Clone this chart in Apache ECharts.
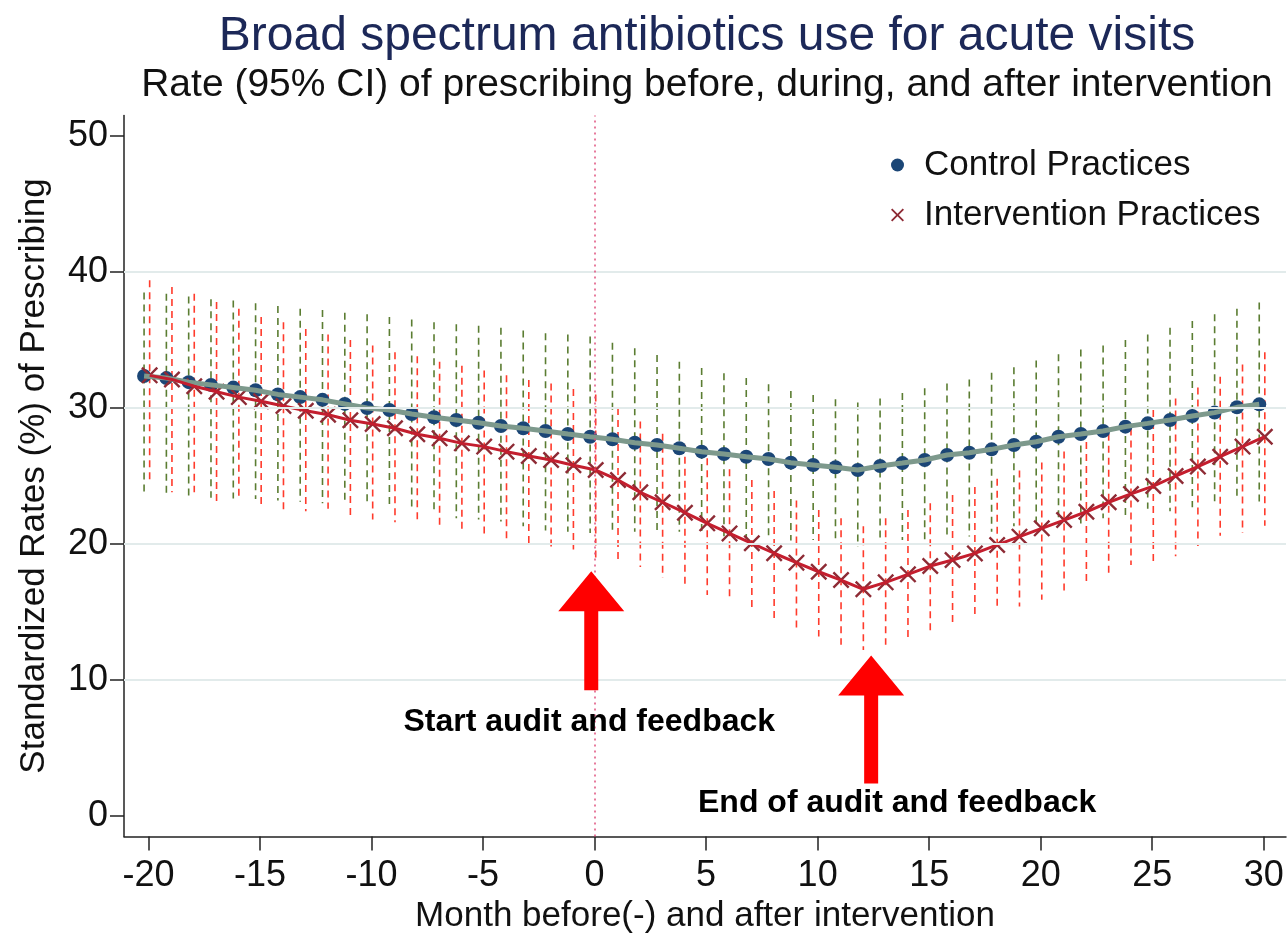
<!DOCTYPE html>
<html>
<head>
<meta charset="utf-8">
<title>Broad spectrum antibiotics use for acute visits</title>
<script src="https://cdn.jsdelivr.net/npm/echarts@6.0.0/dist/echarts.min.js"></script>
<style>
  html, body { margin: 0; padding: 0; background: #fff; }
  #main { width: 1288px; height: 933px; }
</style>
</head>
<body>
<div id="main"></div>
<script>
// months before(-) and after the intervention
const months = [-20, -19, -18, -17, -16, -15, -14, -13, -12, -11, -10, -9, -8, -7, -6, -5, -4, -3, -2, -1,
    0, 1, 2, 3, 4, 5, 6, 7, 8, 9, 10, 11, 12, 13, 14, 15, 16, 17, 18, 19, 20,
    21, 22, 23, 24, 25, 26, 27, 28, 29, 30];

// control practices: rate and 95% CI
const control = [32.35, 32.2, 31.9, 31.7, 31.5, 31.3, 31.0, 30.8, 30.6, 30.3, 30.0, 29.85, 29.56, 29.32, 29.12, 28.92, 28.68, 28.51, 28.31, 28.09,
    27.89, 27.7, 27.45, 27.28, 27.04, 26.79, 26.62, 26.42, 26.25, 25.98, 25.81, 25.64, 25.44, 25.74, 25.95, 26.18, 26.54, 26.71, 26.96, 27.28, 27.52,
    27.89, 28.09, 28.31, 28.63, 28.87, 29.12, 29.41, 29.66, 30.05, 30.27];
const controlLow = [23.8, 23.65, 23.5, 23.4, 23.35, 23.3, 23.2, 23.1, 23.0, 22.95, 22.85, 22.7, 22.6, 22.25, 21.9, 21.8, 21.65, 21.3, 21.0, 20.9,
    20.8, 21.0, 20.9, 21.0, 20.9, 20.8, 20.55, 20.4, 20.3, 20.25, 20.3, 20.05, 19.8, 20.15, 20.3, 20.3, 20.4, 20.55, 20.9, 21.3, 21.4,
    21.4, 21.5, 21.9, 22.1, 22.6, 22.4, 22.7, 23.0, 23.5, 23.1];
const controlHigh = [38.5, 38.4, 38.2, 38.0, 37.9, 37.7, 37.5, 37.3, 37.2, 37.0, 36.9, 36.7, 36.5, 36.3, 36.15, 36.05, 35.9, 35.7, 35.5, 35.4,
    35.25, 34.8, 34.4, 33.9, 33.4, 32.95, 32.55, 32.2, 31.75, 31.25, 30.95, 30.65, 30.4, 30.7, 31.1, 31.45, 31.8, 32.1, 32.6, 33.0, 33.5,
    33.95, 34.3, 34.6, 35.0, 35.4, 35.9, 36.4, 36.9, 37.3, 37.75];

// intervention practices: rate and 95% CI
const intervention = [32.4, 32.1, 31.6, 31.2, 30.8, 30.5, 30.15, 29.8, 29.5, 29.1, 28.82, 28.51, 28.07, 27.77, 27.4, 27.16, 26.79, 26.47, 26.18, 25.79,
    25.44, 24.71, 23.8, 23.07, 22.3, 21.52, 20.78, 20.05, 19.32, 18.63, 17.96, 17.35, 16.67, 17.18, 17.77, 18.38, 18.82, 19.31, 19.93, 20.54, 21.15,
    21.76, 22.37, 23.07, 23.68, 24.26, 25.0, 25.69, 26.42, 27.16, 27.89];
const interventionLow = [24.4, 23.8, 23.8, 23.1, 23.35, 22.9, 22.5, 22.4, 22.6, 22.1, 21.8, 21.6, 21.5, 21.1, 20.8, 20.4, 20.1, 19.9, 19.8, 19.6,
    19.0, 18.6, 18.3, 17.5, 16.9, 16.25, 16.0, 15.3, 14.5, 13.8, 13.2, 12.6, 12.2, 12.6, 12.9, 13.55, 14.2, 14.8, 15.4, 15.4, 15.9,
    16.4, 17.0, 17.7, 18.45, 18.6, 19.1, 19.85, 20.6, 20.8, 21.35];
const interventionHigh = [39.4, 38.9, 38.4, 37.8, 37.3, 36.7, 36.3, 35.8, 35.4, 35.0, 34.6, 34.1, 33.8, 33.4, 33.1, 32.75, 32.4, 32.05, 31.8, 31.4,
    31.0, 30.0, 29.0, 28.1, 27.3, 26.3, 25.5, 24.7, 23.9, 23.2, 22.5, 21.9, 21.3, 21.9, 22.5, 23.0, 23.6, 24.2, 24.8, 25.4, 26.0,
    26.8, 27.5, 28.1, 28.5, 29.85, 30.7, 31.5, 32.3, 33.2, 34.1];

const xTicks = [-20, -15, -10, -5, 0, 5, 10, 15, 20, 25, 30];
const yTicks = [0, 10, 20, 30, 40, 50];
const gridValues = [10, 20, 30, 40];

// the two groups are drawn a little apart on the month axis
const controlShift = -0.2;
const interventionShift = 0.05;

// arrows: where the tip points, and the caption under each
const arrowMonths = [-0.15, 12.4];
const arrowTips = [18.0, 11.8];
const arrowLabels = ['Start audit and feedback', 'End of audit and feedback'];

const FONT = '"Liberation Sans", Arial, sans-serif';
const xSymbol = 'path://M0,1L1,0L5,4L9,0L10,1L6,5L10,9L9,10L5,6L1,10L0,9L4,5Z';

let chart;

function errorBar(color) {
    return function (params, api) {
        const top = api.coord([api.value(0), api.value(2)]);
        const bot = api.coord([api.value(0), api.value(1)]);
        return {
            type: 'line',
            shape: { x1: top[0], y1: top[1], x2: bot[0], y2: bot[1] },
            style: { stroke: color, lineWidth: 1.6, lineDash: [7, 5] }
        };
    };
}

const ctrlPts = months.map((m, i) => [m + controlShift, control[i]]);
const intPts = months.map((m, i) => [m + interventionShift, intervention[i]]);
const ctrlBars = months.map((m, i) => [m + controlShift, controlLow[i], controlHigh[i]]);
const intBars = months.map((m, i) => [m + interventionShift, interventionLow[i], interventionHigh[i]]);

const option = {
    animation: false,
    backgroundColor: '#fff',
    textStyle: { fontFamily: FONT },
    title: [{
        text: 'Broad spectrum antibiotics use for acute visits',
        left: 702, top: 8, textAlign: 'center',
        textStyle: { fontSize: 48, fontWeight: 'normal', color: '#1c2858', fontFamily: FONT }
    }, {
        text: 'Rate (95% CI) of prescribing before, during, and after intervention',
        left: 702, top: 61, textAlign: 'center',
        textStyle: { fontSize: 39, fontWeight: 'normal', color: '#111', fontFamily: FONT }
    }],
    legend: {
        orient: 'vertical',
        left: 886, top: 140,
        itemWidth: 13, itemHeight: 13, itemGap: 10,
        textStyle: { fontSize: 35, lineHeight: 40, color: '#111', padding: [0, 0, 0, 15], fontFamily: FONT },
        data: [
            { name: 'Control Practices', icon: 'circle' },
            { name: 'Intervention Practices', icon: xSymbol }
        ]
    },
    grid: { left: 124, right: 2, top: 115.6, bottom: 96.6, outerBoundsMode: 'none' },
    xAxis: {
        type: 'value', min: -21.1, max: 31,
        name: 'Month before(-) and after intervention',
        nameLocation: 'middle', nameGap: 53,
        nameTextStyle: { fontSize: 35, color: '#111', fontFamily: FONT },
        axisLine: { onZero: false, lineStyle: { color: '#222', width: 1.5 } },
        axisTick: { length: 14, lineStyle: { color: '#222', width: 1.5 }, customValues: xTicks },
        axisLabel: { fontSize: 36, color: '#111', margin: 22, customValues: xTicks, fontFamily: FONT },
        splitLine: { show: false }
    },
    yAxis: {
        type: 'value', min: -1.5, max: 51.5,
        name: 'Standardized Rates (%) of Prescribing',
        nameLocation: 'middle', nameGap: 72,
        nameTextStyle: { fontSize: 35, color: '#111', fontFamily: FONT },
        axisLine: { show: true, onZero: false, lineStyle: { color: '#222', width: 1.5 } },
        axisTick: { show: true, length: 14, lineStyle: { color: '#222', width: 1.5 }, customValues: yTicks },
        axisLabel: { fontSize: 36, color: '#111', margin: 16, customValues: yTicks, fontFamily: FONT },
        splitLine: { show: false }
    },
    series: [{
        name: 'grid',
        type: 'line',
        data: [],
        z: 0,
        silent: true,
        markLine: {
            silent: true,
            symbol: 'none',
            label: { show: false },
            lineStyle: { color: '#e2ebeb', width: 2, type: 'solid' },
            data: gridValues.map(v => ({ yAxis: v }))
        }
    }, {
        name: 'start',
        type: 'line',
        data: [],
        z: 1,
        silent: true,
        markLine: {
            silent: true,
            symbol: 'none',
            label: { show: false },
            lineStyle: { color: '#e0507e', width: 1.5, type: [2, 4] },
            data: [{ xAxis: 0 }]
        }
    }, {
        name: 'Control CI',
        type: 'custom',
        z: 2,
        silent: true,
        renderItem: errorBar('#5b7d32'),
        encode: { x: 0, y: [1, 2] },
        data: ctrlBars
    }, {
        name: 'Intervention CI',
        type: 'custom',
        z: 2,
        silent: true,
        renderItem: errorBar('#ff3b2c'),
        encode: { x: 0, y: [1, 2] },
        data: intBars
    }, {
        name: 'Control Practices',
        type: 'scatter',
        z: 3,
        symbol: 'circle',
        symbolSize: 14,
        itemStyle: { color: '#1b4676', opacity: 1 },
        data: ctrlPts
    }, {
        name: 'control line',
        type: 'line',
        z: 4,
        showSymbol: false,
        lineStyle: { color: '#7d998c', width: 5 },
        data: ctrlPts
    }, {
        name: 'Intervention Practices',
        type: 'scatter',
        z: 3,
        symbol: xSymbol,
        symbolSize: 17,
        itemStyle: { color: '#8e2b35', opacity: 1 },
        data: intPts
    }, {
        name: 'intervention line',
        type: 'line',
        z: 4,
        showSymbol: false,
        lineStyle: { color: '#c41e2e', width: 3 },
        data: intPts
    }]
};

function drawArrows() {
    const shapes = [];
    const lengths = [119, 128];
    const labelShift = [[-2, 151], [26, 148]];
    arrowMonths.forEach((m, i) => {
        const p = chart.convertToPixel({ gridIndex: 0 }, [m, arrowTips[i]]);
        const tx = p[0], ty = p[1], L = lengths[i];
        shapes.push({
            type: 'polygon',
            z: 50,
            shape: {
                points: [[tx, ty], [tx + 33, ty + 40], [tx + 7, ty + 40], [tx + 7, ty + L],
                    [tx - 7, ty + L], [tx - 7, ty + 40], [tx - 33, ty + 40]]
            },
            style: { fill: '#ff0000' }
        });
        shapes.push({
            type: 'text',
            z: 50,
            x: tx + labelShift[i][0],
            y: ty + labelShift[i][1],
            style: {
                text: arrowLabels[i],
                font: 'bold 32px ' + FONT,
                fill: '#000',
                textAlign: 'center',
                textVerticalAlign: 'middle'
            }
        });
    });
    chart.setOption({ graphic: shapes });
}

chart = echarts.init(document.getElementById('main'), null, { renderer: 'canvas' });
chart.setOption(option);
drawArrows();
</script>
</body>
</html>
